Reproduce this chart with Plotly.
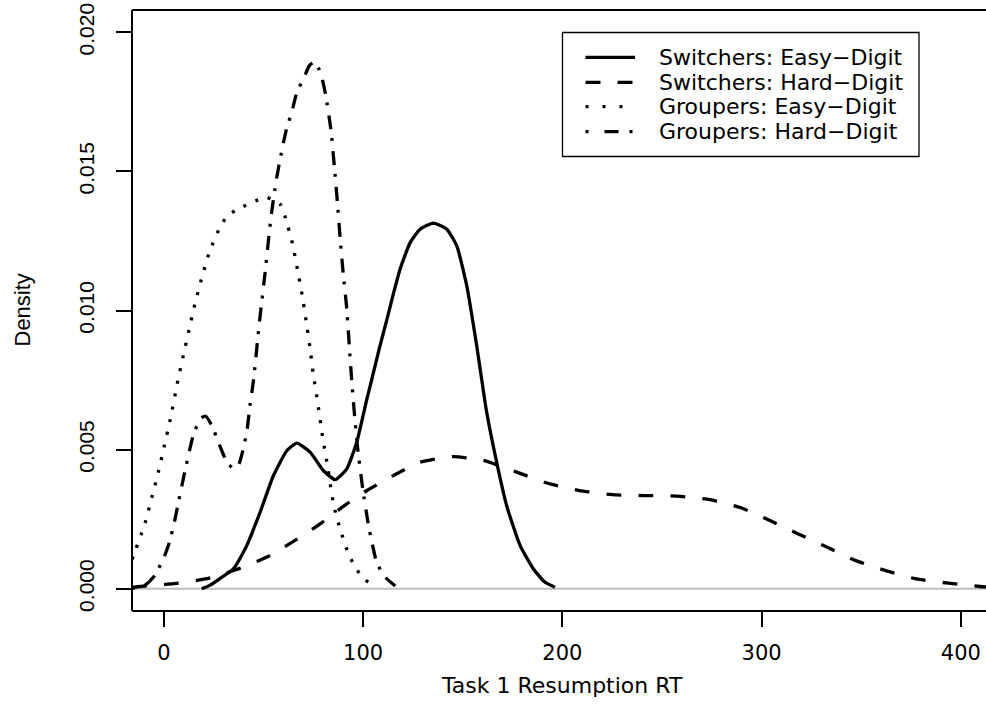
import plotly.graph_objects as go

# ---------------- data ----------------
series_names = ["Switchers: Easy\u2212Digit", "Switchers: Hard\u2212Digit",
                "Groupers: Easy\u2212Digit", "Groupers: Hard\u2212Digit"]

sw_easy_x = [19, 23, 28, 35, 41.6, 48.3, 55, 61.7, 66.7, 73.4, 80, 86, 91.8, 96.8, 101.9,
             104.4, 108, 112, 115, 118.6, 123.6, 128.6, 135.3, 142, 147, 152, 157, 162, 167,
             172, 178.8, 185.4, 191, 196.3]
sw_easy_y = [0.0, 0.00012, 0.00036, 0.00072, 0.00155, 0.00275, 0.00407, 0.00496, 0.00523,
             0.00491, 0.00425, 0.00392, 0.00431, 0.00527, 0.00682, 0.00754, 0.0086, 0.0097,
             0.01055, 0.0115, 0.01244, 0.01292, 0.01314, 0.01292, 0.01232, 0.01089, 0.00873,
             0.00634, 0.00455, 0.00299, 0.00155, 0.00072, 0.00025, 0.00005]

sw_hard_x = [-16, -11.9, 4.8, 21.6, 36.6, 51.7, 65, 78.4, 91.8, 101.9, 115.2, 128.6, 145.3,
             160.4, 177.1, 192.2, 208.5, 225, 240.7, 257.4, 274.1, 290, 304.2, 318.4, 332.7,
             346.9, 361.9, 377, 393.7, 409.6, 416]
sw_hard_y = [0.00005, 0.00008, 0.00018, 0.00036, 0.00069, 0.00114, 0.0017, 0.00233, 0.00305,
             0.00353, 0.00407, 0.00455, 0.00475, 0.00461, 0.00419, 0.0038, 0.00353, 0.00338,
             0.00335, 0.00333, 0.0032, 0.0029, 0.00245, 0.00197, 0.0015, 0.00102, 0.00066,
             0.00036, 0.0002, 0.00008, 0.00005]

gr_easy_x = [-16, -13.9, -11.5, -9.4, -6, -2.7, 0.2, 3.2, 7, 9.8, 12.7, 15.7, 19.1, 22.9,
             28.2, 32.1, 38.8, 46, 51.7, 58.7, 61, 64.5, 67, 69.4, 71.4, 73.3, 75, 77,
             79.8, 82.1, 85.1, 88.5, 92.6, 96, 100.2, 103.5, 106.9]
gr_easy_y = [0.00104, 0.00146, 0.00194, 0.00237, 0.00329, 0.00422, 0.00514, 0.00608, 0.00748,
             0.0084, 0.00933, 0.01027, 0.01119, 0.01211, 0.013, 0.01342, 0.0137, 0.01394,
             0.01406, 0.01379, 0.01333, 0.01242, 0.01149, 0.01055, 0.00961, 0.00868, 0.0077,
             0.0068, 0.00538, 0.00443, 0.00305, 0.00213, 0.00126, 0.00078, 0.00036, 0.0002,
             0.0001]

gr_hard_x = [-16, -10, -5.2, -0.2, 2.8, 5.2, 7.3, 11, 14.9, 18.6, 21, 24.1, 27.9, 31.6, 35,
             37.5, 39.6, 41.6, 43.3, 45, 47.8, 50.8, 53.7, 56.2, 59.5, 61.7, 64.2, 66.7, 70.4,
             73, 75.5, 78, 79.3, 81.3, 83.8, 85.6, 87.1, 88.5, 90.1, 91.8, 93.6, 95, 97.1,
             99.8, 102.7, 104.4, 106.5, 110.2, 116.1]
gr_hard_y = [0.00002, 0.0001, 0.00042, 0.00108, 0.00168, 0.00237, 0.00311, 0.00437, 0.00556,
             0.00613, 0.0062, 0.00586, 0.00517, 0.00455, 0.00432, 0.00445, 0.00496, 0.00562,
             0.00665, 0.0075, 0.00948, 0.01137, 0.01332, 0.0146, 0.01587, 0.01657, 0.01713,
             0.01783, 0.01838, 0.0188, 0.01893, 0.01865, 0.01838, 0.01771, 0.01651, 0.01514,
             0.01388, 0.01256, 0.01125, 0.01005, 0.00814, 0.00682, 0.00514, 0.00359, 0.00227,
             0.00168, 0.00102, 0.00048, 0.0001]

x_ticks = [0, 100, 200, 300, 400]
y_ticks = [0.0, 0.005, 0.010, 0.015, 0.020]
y_tick_labels = ["0.000", "0.005", "0.010", "0.015", "0.020"]
x_title = "Task 1 Resumption RT"
y_title = "Density"

# ---------------- styles ----------------
curve_dashes = ["solid", "15px,17px", "3px,10px", "3px,10px,14px,9px"]
legend_dashes = ["solid", "15px,17px", "3px,14px", "3px,16px,14px,11px"]
all_x = [sw_easy_x, sw_hard_x, gr_easy_x, gr_hard_x]
all_y = [sw_easy_y, sw_hard_y, gr_easy_y, gr_hard_y]

W, H = 986, 713
ML, MR, MT, MB = 132, 0, 10, 102
PW, PH = W - ML - MR, H - MT - MB


def px2paper_x(px):
    return (px - ML) / PW


def py2paper_y(py):
    return (H - MB - py) / PH


fig = go.Figure()
for xs, ys, dash, name in zip(all_x, all_y, curve_dashes, series_names):
    fig.add_trace(go.Scatter(x=xs, y=ys, mode="lines", name=name, showlegend=False,
                             line=dict(color="black", width=3.3, dash=dash,
                                       shape="spline", smoothing=0.5)))

shapes = []
# grey zero line
shapes.append(dict(type="line", xref="paper", yref="y", x0=0, x1=1, y0=0, y1=0,
                   line=dict(color="#BEBEBE", width=2), layer="below"))
# plot box (right edge lies outside the picture)
for x0, y0, x1, y1 in [(0, 0, 0, 1), (0, 1, 1, 1), (0, 0, 1, 0)]:
    shapes.append(dict(type="line", xref="paper", yref="paper", x0=x0, y0=y0, x1=x1, y1=y1,
                       line=dict(color="black", width=2)))
# legend box
lx0, lx1, ly0, ly1 = px2paper_x(562.5), px2paper_x(919), py2paper_y(156.5), py2paper_y(32.5)
shapes.append(dict(type="rect", xref="paper", yref="paper", x0=lx0, x1=lx1, y0=ly0, y1=ly1,
                   line=dict(color="black", width=1.3), fillcolor="white"))
row_py = [57.3, 82.3, 106.7, 131.7]
annotations = []
for name, dash, py in zip(series_names, legend_dashes, row_py):
    yy = py2paper_y(py)
    shapes.append(dict(type="line", xref="paper", yref="paper",
                       x0=px2paper_x(585.5), x1=px2paper_x(635), y0=yy, y1=yy,
                       line=dict(color="black", width=3.3, dash=dash)))
    annotations.append(dict(text=name, xref="paper", yref="paper", x=px2paper_x(657), y=yy,
                            xanchor="left", yanchor="middle", showarrow=False,
                            font=dict(family="DejaVu Sans", size=22, color="black")))

annotations.append(dict(text=x_title, xref="x", yref="paper", x=200, y=py2paper_y(686),
                        xanchor="center", yanchor="middle", showarrow=False,
                        font=dict(family="DejaVu Sans", size=22, color="black")))
annotations.append(dict(text=y_title, xref="paper", yref="paper", x=px2paper_x(22), y=0.5,
                        xanchor="center", yanchor="middle", showarrow=False, textangle=-90,
                        font=dict(family="Liberation Sans", size=22, color="black")))

fig.update_layout(
    width=W, height=H,
    margin=dict(l=ML, r=MR, t=MT, b=MB, pad=0),
    paper_bgcolor="white", plot_bgcolor="white",
    shapes=shapes, annotations=annotations,
    xaxis=dict(range=[-16, (W - 163.7) / 1.993], tickvals=x_ticks,
               ticktext=[str(v) for v in x_ticks],
               ticks="outside", ticklen=15, tickwidth=2, tickcolor="black",
               showgrid=False, zeroline=False, showline=False,
               ticklabelstandoff=8,
               tickfont=dict(family="DejaVu Sans", size=21, color="black")),
    yaxis=dict(range=[-0.0008, 0.0208], tickvals=y_ticks, ticktext=y_tick_labels,
               tickangle=-90, ticks="outside", ticklen=15, tickwidth=2, tickcolor="black",
               showgrid=False, zeroline=False, showline=False,
               ticklabelstandoff=14,
               tickfont=dict(family="Liberation Sans", size=21, color="black")),
)

fig.write_html("out.html")
